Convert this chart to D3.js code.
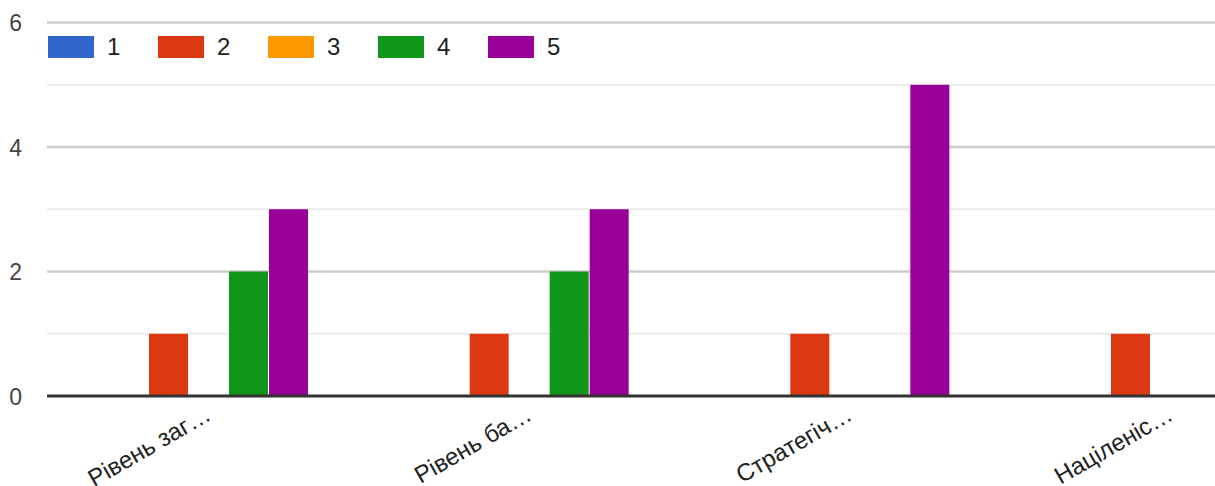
<!DOCTYPE html>
<html>
<head>
<meta charset="utf-8">
<script src="https://cdn.jsdelivr.net/npm/d3@7"></script>
<style>
  body { margin: 0; background: #fff; }
  svg { display: block; font-family: Arial, "Liberation Sans", sans-serif; }
</style>
</head>
<body>
<div id="plot"></div>
<script>
const categories = ["Рівень заг…", "Рівень ба…", "Стратегіч…", "Націленіс…"];
const seriesNames = ["1", "2", "3", "4", "5"];
const seriesValues = [
  [0, 0, 0, 0],
  [1, 1, 1, 1],
  [0, 0, 0, 0],
  [2, 2, 0, 0],
  [3, 3, 5, 0]
];
const colors = ["#3366cc", "#dc3912", "#ff9900", "#109618", "#990099"];
const majorTicks = [0, 2, 4, 6];
const minorTicks = [1, 3, 5];

const width = 1215, height = 486;
const left = 47, baseY = 396, topY = 22.5;

const svg = d3.select("#plot").append("svg")
  .attr("width", width)
  .attr("height", height);

const y = d3.scaleLinear().domain([0, 6]).range([baseY, topY]);

// group bands run past the right edge, like the cropped original
const x0 = d3.scaleBand()
  .domain(categories)
  .range([48.17, 1330.84])
  .paddingInner(0.3794)
  .paddingOuter(0.1897);

const x1 = d3.scaleBand()
  .domain(seriesNames)
  .range([0, x0.bandwidth()])
  .paddingInner(0.025);

// gridlines
svg.append("g").selectAll("line")
  .data(minorTicks)
  .join("line")
  .attr("x1", left).attr("x2", width)
  .attr("y1", d => y(d)).attr("y2", d => y(d))
  .attr("stroke", "#ebebeb").attr("stroke-width", 2);

svg.append("g").selectAll("line")
  .data(majorTicks.filter(d => d > 0))
  .join("line")
  .attr("x1", left).attr("x2", width)
  .attr("y1", d => y(d)).attr("y2", d => y(d))
  .attr("stroke", "#cccccc").attr("stroke-width", 2.5);

// y tick labels
svg.append("g").selectAll("text")
  .data(majorTicks)
  .join("text")
  .attr("x", 22)
  .attr("y", d => y(d) + 8.5)
  .attr("text-anchor", "end")
  .attr("font-size", 23)
  .attr("fill", "#444")
  .text(d => d);

// bars
const rows = categories.map((c, i) => ({ cat: c, vals: seriesValues.map(s => s[i]) }));
svg.append("g").selectAll("g")
  .data(rows)
  .join("g")
  .attr("transform", d => `translate(${x0(d.cat)},0)`)
  .selectAll("rect")
  .data(d => d.vals.map((v, k) => ({ k, v })).filter(e => e.v > 0))
  .join("rect")
  .attr("x", d => x1(seriesNames[d.k]))
  .attr("width", x1.bandwidth())
  .attr("y", d => y(d.v))
  .attr("height", d => y(0) - y(d.v))
  .attr("fill", d => colors[d.k]);

// baseline
svg.append("line")
  .attr("x1", left).attr("x2", width)
  .attr("y1", baseY).attr("y2", baseY)
  .attr("stroke", "#333").attr("stroke-width", 3);

// category labels
svg.append("g").selectAll("text")
  .data(categories)
  .join("text")
  .attr("text-anchor", "end")
  .attr("font-size", 24)
  .attr("fill", "#222")
  .attr("transform", d => `translate(${x0(d) + x0.bandwidth() / 2 + 4},${baseY + 23}) rotate(-30)`)
  .text(d => d);

// legend
const legend = svg.append("g").selectAll("g")
  .data(seriesNames)
  .join("g")
  .attr("transform", (d, i) => `translate(${48 + i * 110},36)`);
legend.append("rect")
  .attr("width", 46).attr("height", 22)
  .attr("fill", (d, i) => colors[i]);
legend.append("text")
  .attr("x", 59).attr("y", 19)
  .attr("font-size", 24)
  .attr("fill", "#222")
  .text(d => d);
</script>
</body>
</html>
